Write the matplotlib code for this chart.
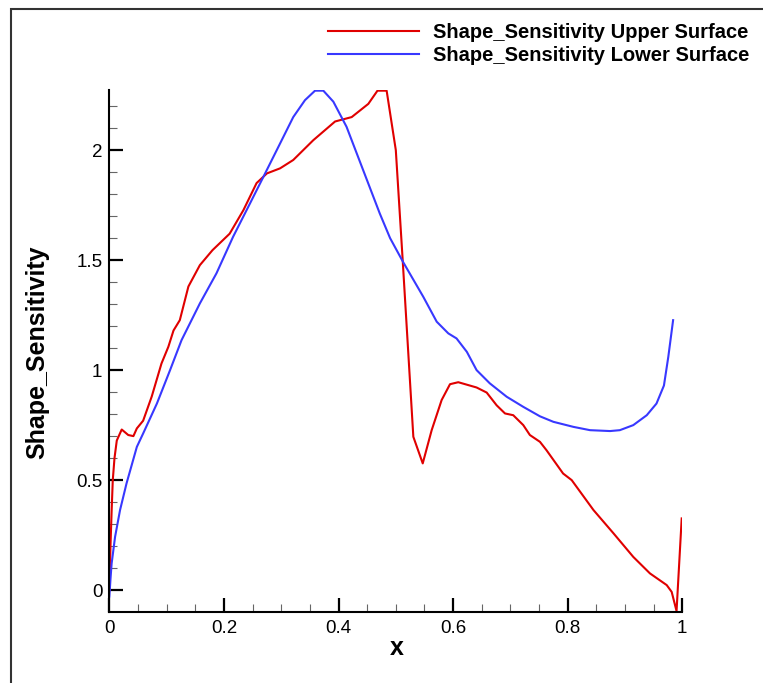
import numpy as np
import matplotlib
matplotlib.use('Agg')
import matplotlib.pyplot as plt
from matplotlib.patches import Rectangle

plt.rcParams['font.family'] = ['Liberation Sans', 'DejaVu Sans']

# upper surface (red)
x_up = [0.0, 0.002, 0.004, 0.006, 0.009, 0.013, 0.0216, 0.033, 0.042, 0.048, 0.059, 0.074,
        0.091, 0.103, 0.112, 0.123, 0.138, 0.158, 0.18, 0.21, 0.234, 0.257, 0.275,
        0.298, 0.321, 0.356, 0.394, 0.423, 0.452, 0.468, 0.484, 0.5, 0.512, 0.5306,
        0.547, 0.5626, 0.58, 0.5946, 0.609, 0.641, 0.6586, 0.676, 0.6906, 0.705, 0.7225,
        0.734, 0.7516, 0.763, 0.792, 0.807, 0.845, 0.88, 0.9145, 0.9436, 0.9728, 0.9815,
        0.99, 0.999]
y_up = [0.0, 0.2, 0.36, 0.5, 0.6, 0.68, 0.73, 0.705, 0.70, 0.735, 0.77, 0.88,
        1.03, 1.106, 1.18, 1.227, 1.38, 1.477, 1.545, 1.62, 1.727, 1.85, 1.894,
        1.917, 1.955, 2.045, 2.13, 2.15, 2.21, 2.27, 2.27, 2.0, 1.5, 0.697,
        0.576, 0.727, 0.864, 0.936, 0.945, 0.921, 0.898, 0.84, 0.803, 0.795, 0.75,
        0.705, 0.674, 0.636, 0.53, 0.5, 0.364, 0.258, 0.151, 0.076, 0.023, -0.008,
        -0.095, 0.326]

# lower surface (blue)
x_lo = [0.0, 0.002, 0.004, 0.01, 0.0187, 0.03, 0.048, 0.059, 0.083, 0.106, 0.126,
        0.158, 0.187, 0.216, 0.2456, 0.269, 0.298, 0.321, 0.3415, 0.359, 0.3735,
        0.391, 0.414, 0.443, 0.472, 0.49, 0.513, 0.548, 0.5714, 0.5916, 0.606, 0.624,
        0.641, 0.664, 0.6935, 0.7225, 0.7516, 0.775, 0.81, 0.839, 0.874, 0.891,
        0.9145, 0.938, 0.955, 0.968, 0.9756, 0.984]
y_lo = [-0.03, 0.05, 0.121, 0.242, 0.364, 0.485, 0.651, 0.712, 0.848, 1.0, 1.136,
        1.303, 1.44, 1.606, 1.758, 1.879, 2.03, 2.15, 2.227, 2.27, 2.27,
        2.22, 2.106, 1.909, 1.712, 1.6, 1.49, 1.333, 1.22, 1.167, 1.144, 1.083,
        1.0, 0.94, 0.879, 0.833, 0.79, 0.765, 0.742, 0.727, 0.723, 0.727,
        0.75, 0.795, 0.848, 0.93, 1.06, 1.227]

labels = ['Shape_Sensitivity Upper Surface', 'Shape_Sensitivity Lower Surface']

fig = plt.figure(figsize=(7.63, 6.83), dpi=100)
ax = fig.add_axes([0.1433, 0.1044, 0.7509, 0.7638])

ax.plot(x_up, y_up, color='#e00000', lw=1.5, label=labels[0])
ax.plot(x_lo, y_lo, color='#3838ff', lw=1.5, label=labels[1])

ax.set_xlim(0, 1)
ax.set_ylim(-0.098, 2.273)
ax.set_xticks(np.arange(0, 1.01, 0.2))
ax.set_xticklabels(['0', '0.2', '0.4', '0.6', '0.8', '1'])
ax.set_xticks(np.arange(0, 1.001, 0.05), minor=True)
ax.set_yticks([0, 0.5, 1, 1.5, 2])
ax.set_yticklabels(['0', '0.5', '1', '1.5', '2'])
ax.set_yticks(np.arange(-0.0, 2.25, 0.1), minor=True)

for s in ['top', 'right']:
    ax.spines[s].set_visible(False)
for s in ['left', 'bottom']:
    ax.spines[s].set_linewidth(1.5)
ax.tick_params(which='major', direction='in', length=10, width=1.6, labelsize=13.5,
               colors='black')
ax.tick_params(axis='y', which='major', pad=5)
ax.tick_params(axis='x', which='major', pad=6)
ax.tick_params(which='minor', direction='in', length=6, width=0.8, color='#666666')

fig.text(396.5 / 763, 1 - 648 / 683, 'x', fontsize=18, fontweight='bold',
         ha='center', va='center')
fig.text(37 / 763, 1 - 352 / 683, 'Shape_Sensitivity', fontsize=18, fontweight='bold',
         rotation=90, ha='center', va='center')

fig.legend(loc='upper right', bbox_to_anchor=(749 / 763, 1 - 23 / 683), frameon=False,
           borderpad=0, borderaxespad=0, handlelength=4.5, handletextpad=0.7,
           labelspacing=0.2, prop={'weight': 'bold', 'size': 14.5})

# outer frame
fig.patches.append(Rectangle((10.5 / 763, -0.1), 2.0, 1.1 - 9 / 683, transform=fig.transFigure,
                             fill=False, lw=1.5, edgecolor='#333333'))

fig.savefig('out.png', dpi=100)
